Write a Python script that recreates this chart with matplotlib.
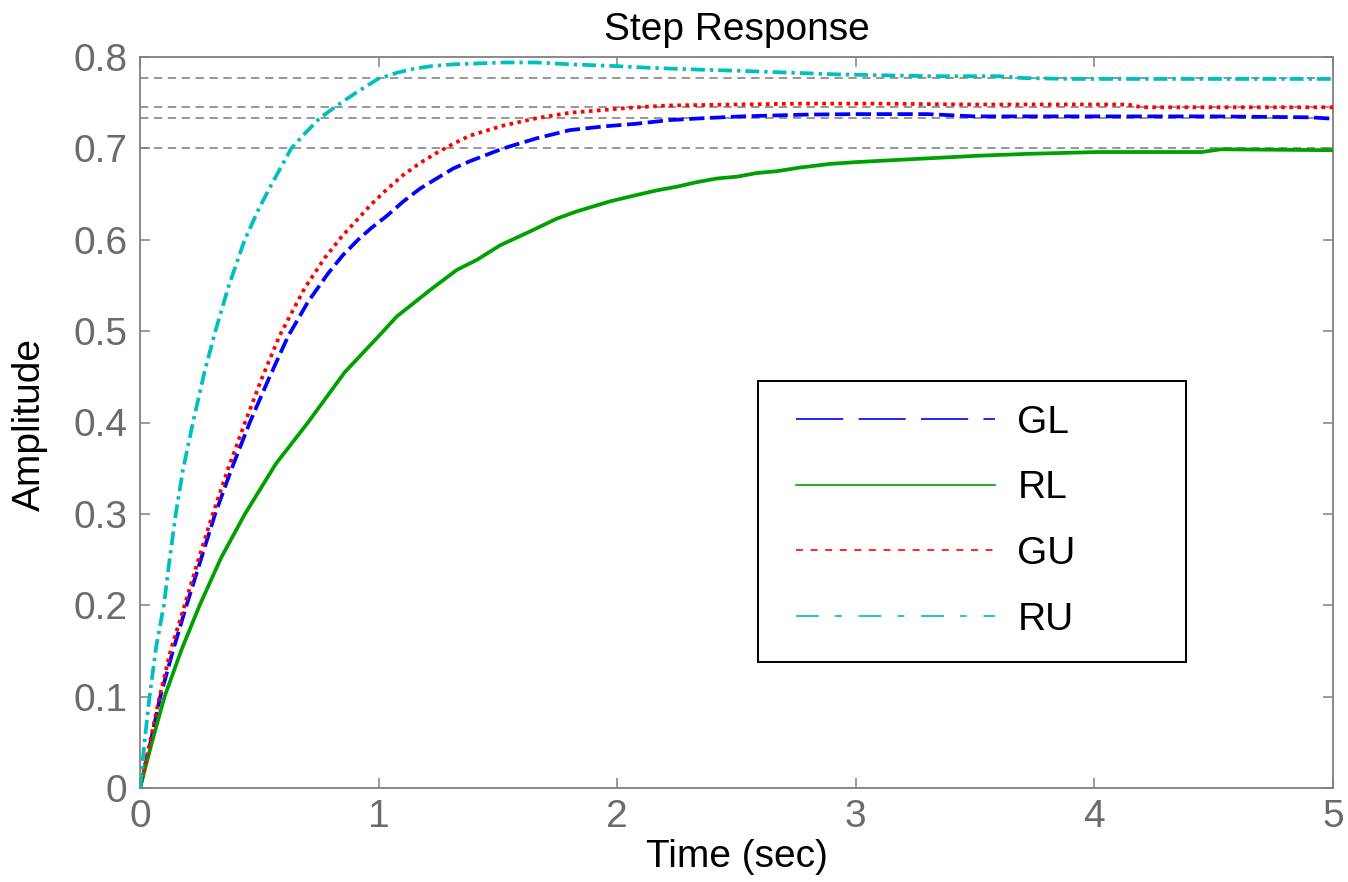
import matplotlib
matplotlib.use("Agg")
import matplotlib.pyplot as plt
from matplotlib.lines import Line2D
from matplotlib.legend_handler import HandlerLine2D
import numpy as np

plt.rcParams['font.family'] = ['Liberation Sans', 'DejaVu Sans']
plt.rcParams['lines.scale_dashes'] = False

# ---- data ----
t_gl = [0, 0.04, 0.085, 0.14, 0.195, 0.255, 0.315, 0.385, 0.46, 0.54, 0.62, 0.704, 0.788, 0.85,
        0.914, 0.97, 1.034, 1.104, 1.174, 1.243, 1.313, 1.383, 1.523, 1.662, 1.802, 1.942, 2.082,
        2.221, 2.361, 2.52, 2.8, 3.0, 3.3, 3.5, 4.5, 4.9, 5.0]
y_gl = [0, 0.045, 0.1, 0.152, 0.2, 0.25, 0.3, 0.35, 0.4, 0.448, 0.494, 0.532, 0.563, 0.583,
        0.6, 0.613, 0.626, 0.642, 0.656, 0.667, 0.678, 0.686, 0.7, 0.711, 0.72, 0.724, 0.727,
        0.731, 0.733, 0.735, 0.737, 0.7375, 0.7375, 0.735, 0.735, 0.734, 0.7325]

t_rl = [0, 0.05, 0.103, 0.175, 0.25, 0.34, 0.44, 0.57, 0.704, 0.858, 1.02, 1.076, 1.216, 1.328,
        1.412, 1.51, 1.634, 1.746, 1.83, 1.97, 2.082, 2.165, 2.249, 2.333, 2.417, 2.501, 2.585,
        2.669, 2.766, 2.892, 3.003, 3.22, 3.518, 3.72, 4.015, 4.45, 4.53, 5.0]
y_rl = [0, 0.05, 0.1, 0.152, 0.2, 0.252, 0.3, 0.355, 0.4, 0.455, 0.5, 0.516, 0.545, 0.567,
        0.578, 0.594, 0.609, 0.623, 0.631, 0.642, 0.649, 0.654, 0.658, 0.663, 0.667, 0.669, 0.673,
        0.675, 0.679, 0.683, 0.685, 0.688, 0.692, 0.694, 0.696, 0.696, 0.699, 0.698]

t_gu = [0, 0.04, 0.082, 0.13, 0.187, 0.245, 0.305, 0.37, 0.44, 0.51, 0.585, 0.69, 0.774,
        0.844, 0.914, 0.97, 1.034, 1.104, 1.174, 1.243, 1.313, 1.383, 1.523, 1.662, 1.802, 1.942,
        2.082, 2.221, 2.5, 2.78, 3.06, 3.5, 4.14, 4.2, 5.0]
y_gu = [0, 0.048, 0.1, 0.152, 0.2, 0.25, 0.3, 0.35, 0.4, 0.448, 0.495, 0.547, 0.58,
        0.603, 0.623, 0.639, 0.655, 0.671, 0.684, 0.695, 0.705, 0.714, 0.725, 0.733, 0.739, 0.742,
        0.745, 0.747, 0.748, 0.749, 0.749, 0.748, 0.748, 0.745, 0.745]

t_ru = [0, 0.02, 0.04, 0.068, 0.1, 0.124, 0.15, 0.18, 0.222, 0.271, 0.316, 0.37, 0.439, 0.5,
        0.55, 0.634, 0.69, 0.753, 0.816, 0.9, 0.997, 1.08, 1.146, 1.22, 1.313, 1.42, 1.523, 1.662,
        1.802, 1.998, 2.151, 2.361, 2.5, 2.71, 2.92, 3.11, 3.31, 3.6, 3.7, 3.9, 4.5, 5.0]
y_ru = [0, 0.053, 0.1, 0.155, 0.2, 0.25, 0.3, 0.348, 0.4, 0.456, 0.5, 0.548, 0.6, 0.635,
        0.66, 0.7, 0.716, 0.733, 0.745, 0.76, 0.776, 0.783, 0.787, 0.79, 0.792, 0.793, 0.794, 0.794,
        0.792, 0.79, 0.788, 0.786, 0.785, 0.783, 0.781, 0.78, 0.779, 0.779, 0.777, 0.776, 0.776, 0.776]

final_values = [0.777, 0.745, 0.733, 0.700]
labels = ['GL', 'RL', 'GU', 'RU']
x_ticks = [0, 1, 2, 3, 4, 5]
y_ticks = [0, 0.1, 0.2, 0.3, 0.4, 0.5, 0.6, 0.7, 0.8]

col_gl, col_rl, col_gu, col_ru = '#0000ff', '#00a000', '#ff0000', '#00bfbf'

fig = plt.figure(figsize=(13.48, 8.82), dpi=100)
ax = fig.add_axes([140/1348, 94/882, 1193/1348, 731/882])

# steady-state reference lines
for v in final_values:
    ax.plot([0, 5], [v, v], color='#7a7a7a', lw=1.1, dashes=(6, 4), zorder=1)

lw = 2.7
ax.plot(t_gl, y_gl, color=col_gl, lw=lw, dashes=(11, 4), solid_capstyle='butt', zorder=3)
ax.plot(t_rl, y_rl, color=col_rl, lw=lw, linestyle='-', zorder=3)
ax.plot(t_gu, y_gu, color=col_gu, lw=lw, dashes=(2.6, 3.2), dash_capstyle='butt', zorder=3)
ax.plot(t_ru, y_ru, color=col_ru, lw=lw, dashes=(10, 3.6, 2.4, 3.6), dash_capstyle='butt', zorder=3)

ax.set_xlim(0, 5)
ax.set_ylim(0, 0.8)
ax.set_xticks(x_ticks)
ax.set_yticks(y_ticks)
ax.set_xticklabels([str(v) for v in x_ticks])
ax.set_yticklabels(['0' if v == 0 else f'{v:.1f}' for v in y_ticks])

gray = '#6b6b6b'
for s in ax.spines.values():
    s.set_color('#808080')
    s.set_linewidth(1.3)
ax.tick_params(direction='in', length=7, width=1.1, color='#808080', top=True, right=True,
               labelsize=28, labelcolor=gray)
ax.tick_params(axis='x', pad=8)
ax.tick_params(axis='y', pad=9)

ax.set_title('Step Response', fontsize=28, color='black', pad=12)
ax.set_xlabel('Time (sec)', fontsize=28, color='black', labelpad=3)
ax.set_ylabel('Amplitude', fontsize=28, color='black')
ax.yaxis.set_label_coords(-0.077, 0.497)


class ShiftedLine(HandlerLine2D):
    """Legend line that starts a little to the right of the handle box."""
    def get_xdata(self, legend, xdescent, ydescent, width, height, fontsize):
        x0 = -xdescent + 0.066 * width
        x1 = -xdescent + width
        return np.array([x0, x1]), np.array([x0, x1])


handles = [
    Line2D([], [], color=col_gl, lw=1.2, dashes=(34, 11)),
    Line2D([], [], color=col_rl, lw=1.2, linestyle='-'),
    Line2D([], [], color=col_gu, lw=1.2, dashes=(5, 5.5)),
    Line2D([], [], color=col_ru, lw=1.2, dashes=(16.5, 11.5, 5, 12)),
]
leg = ax.legend(handles, labels, loc='upper left', bbox_to_anchor=(0.518, 0.176, 0.359, 0.381),
                mode='expand', fontsize=28, handlelength=5.48, handletextpad=0.57,
                labelspacing=0.76, borderpad=0.62, borderaxespad=0, fancybox=False,
                framealpha=1, edgecolor='black',
                handler_map={Line2D: ShiftedLine()})
leg.get_frame().set_linewidth(1.4)

fig.savefig('out.png', dpi=100)
